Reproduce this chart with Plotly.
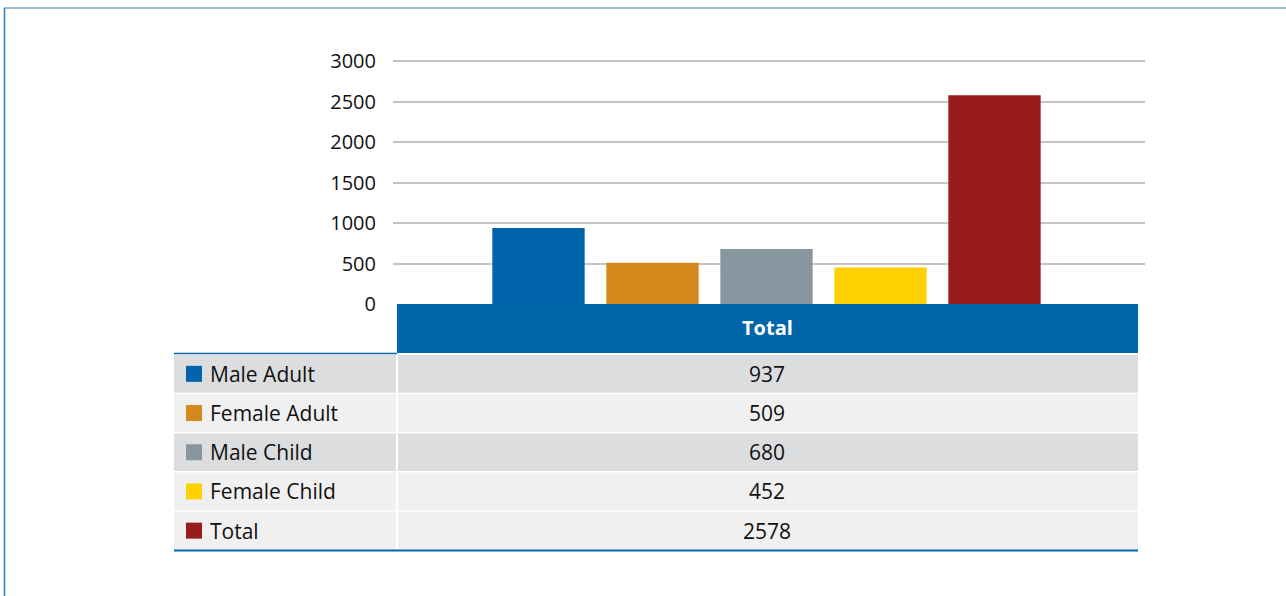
import plotly.graph_objects as go

categories = ["Male Adult", "Female Adult", "Male Child", "Female Child", "Total"]
values = [937, 509, 680, 452, 2578]
colors = ["#0065AA", "#D4891C", "#8896A0", "#FFD100", "#981B1E"]
group_label = "Total"
y_ticks = [0, 500, 1000, 1500, 2000, 2500, 3000]

W, H = 1286, 596
FONT = "Open Sans"
TXT = 21


def px(x):
    return x / W


def py(y):
    return 1 - y / H


fig = go.Figure()
for name, val, col in zip(categories, values, colors):
    fig.add_trace(go.Bar(x=[group_label], y=[val], name=name, marker=dict(color=col, line=dict(width=0)),
                         showlegend=False))

shapes = []
annotations = []

# header
shapes.append(dict(type="rect", xref="paper", yref="paper", x0=px(397), x1=px(1138), y0=py(353), y1=py(304),
                   fillcolor="#0066AA", line=dict(width=0), layer="below"))
annotations.append(dict(xref="paper", yref="paper", x=px(767), y=py(327), text="<b>%s</b>" % group_label,
                        showarrow=False, font=dict(family=FONT, size=20, color="white"),
                        xanchor="center", yanchor="middle"))
shapes.append(dict(type="line", xref="paper", yref="paper", x0=px(174), x1=px(397), y0=py(353.5), y1=py(353.5),
                   line=dict(color="#0066AA", width=1.5)))

row_top = 355
row_h = 39.2
row_fills = ["#DCDDDF", "#F0F0F0", "#DCDDDF", "#F0F0F0", "#F0F0F0"]
for i, (name, val, col) in enumerate(zip(categories, values, colors)):
    t = row_top + i * row_h
    b = t + row_h - 1.5
    fill = row_fills[i]
    shapes.append(dict(type="rect", xref="paper", yref="paper", x0=px(174), x1=px(396), y0=py(b), y1=py(t),
                       fillcolor=fill, line=dict(width=0)))
    shapes.append(dict(type="rect", xref="paper", yref="paper", x0=px(398), x1=px(1138), y0=py(b), y1=py(t),
                       fillcolor=fill, line=dict(width=0)))
    mid = (t + b) / 2
    shapes.append(dict(type="rect", xref="paper", yref="paper", x0=px(186), x1=px(202), y0=py(mid + 8),
                       y1=py(mid - 8), fillcolor=col, line=dict(width=0)))
    annotations.append(dict(xref="paper", yref="paper", x=px(208), y=py(mid), text=name, showarrow=False,
                            font=dict(family=FONT, size=TXT, color="#111111"), xanchor="left", yanchor="middle"))
    annotations.append(dict(xref="paper", yref="paper", x=px(767), y=py(mid), text=str(val), showarrow=False,
                            font=dict(family=FONT, size=TXT, color="#111111"), xanchor="center", yanchor="middle"))

shapes.append(dict(type="line", xref="paper", yref="paper", x0=px(174), x1=px(1138), y0=py(550.5), y1=py(550.5),
                   line=dict(color="#0066AA", width=2)))

# outer frame (top and left)
shapes.append(dict(type="line", xref="paper", yref="paper", x0=px(4), x1=px(1286), y0=py(8), y1=py(8),
                   line=dict(color="#6FA6D2", width=1.5)))
shapes.append(dict(type="line", xref="paper", yref="paper", x0=px(4.5), x1=px(4.5), y0=py(8), y1=py(600),
                   line=dict(color="#2A7BC0", width=1.5)))

# y axis: 0 at 304px, 3000 at 61px; extend range slightly so top gridline is drawn
y_top_val = 3030
unit = (304 - 61) / 3000
top_px = 304 - y_top_val * unit

shift = 2.5 / (1145 - 393)

fig.update_layout(
    autosize=True,
    margin=dict(l=0, r=0, t=0, b=0, pad=0),
    paper_bgcolor="white", plot_bgcolor="white",
    barmode="group", bargap=0.242, bargroupgap=0.19,
    xaxis=dict(domain=[px(393), px(1145)], range=[-0.5 + shift, 0.5 + shift], showticklabels=False,
               showgrid=False, zeroline=False, showline=False, ticks="", automargin=False),
    yaxis=dict(domain=[py(304), py(top_px)], range=[0, y_top_val], tickvals=y_ticks, showgrid=True,
               gridcolor="#C4C4C4", gridwidth=1.5, zeroline=False, showline=False, ticks="",
               automargin=False,
               ticklabelstandoff=16, tickfont=dict(family=FONT, size=20, color="#111111")),
    shapes=shapes,
    annotations=annotations,
    font=dict(family=FONT),
)

fig.write_html("out.html", config={"displayModeBar": False, "responsive": True},
               default_width="100%", default_height="100%",
               post_script="document.documentElement.style.height='100%';"
                           "document.body.style.margin='0';document.body.style.height='100%';"
                           "document.body.style.overflow='hidden';"
                           "var d=document.getElementsByClassName('plotly-graph-div')[0];"
                           "d.parentElement.style.height='100%';"
                           "Plotly.Plots.resize(d);")
